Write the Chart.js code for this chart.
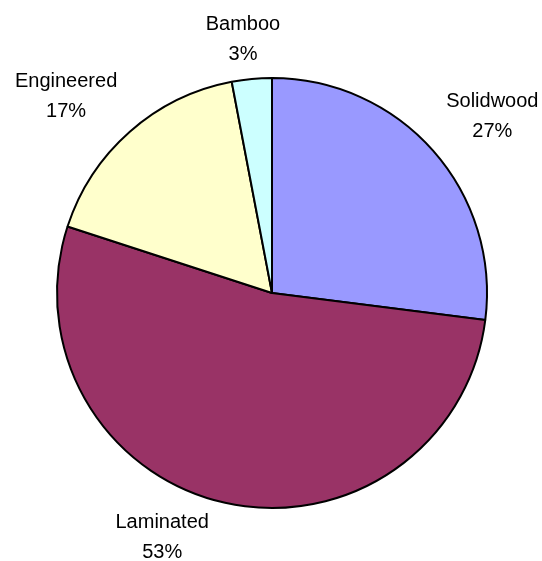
<!DOCTYPE html>
<html>
<head>
<meta charset="utf-8">
<script src="https://cdn.jsdelivr.net/npm/chart.js@4/dist/chart.umd.min.js"></script>
<style>
  html, body { margin: 0; padding: 0; background: #ffffff; }
  #wrap { width: 542px; height: 561px; }
</style>
</head>
<body>
<div id="wrap"><canvas id="pie" width="542" height="561"></canvas></div>
<script>
// Flooring market share by type
const categories = ['Solidwood', 'Laminated', 'Engineered', 'Bamboo'];
const shares = [27, 53, 17, 3];
const sliceColors = ['#9999FF', '#993366', '#FFFFCC', '#CCFFFF'];

// Draws "name / percent" labels outside the rim, sliding a label along
// the rim when it would otherwise fall off the canvas.
const outsideLabels = {
  id: 'outsideLabels',
  afterDatasetsDraw(chart) {
    const ctx = chart.ctx;
    const meta = chart.getDatasetMeta(0);
    const total = shares.reduce((a, b) => a + b, 0);
    const W = chart.width, H = chart.height;
    const gap = 19, cap = 14.3, lineStep = 30, blockH = cap + lineStep, margin = 3;
    const clamp = v => Math.max(-1, Math.min(1, v));

    ctx.save();
    ctx.font = '20px "Liberation Sans", Arial, sans-serif';
    ctx.fillStyle = '#000000';
    ctx.textAlign = 'center';
    ctx.textBaseline = 'alphabetic';

    meta.data.forEach((arc, i) => {
      const { x, y, startAngle, endAngle, outerRadius } =
        arc.getProps(['x', 'y', 'startAngle', 'endAngle', 'outerRadius'], true);
      const lines = [categories[i], Math.round(shares[i] / total * 100) + '%'];
      const w = Math.max(...lines.map(t => ctx.measureText(t).width));

      const place = a => {
        const dx = Math.cos(a), dy = Math.sin(a);
        const px = x + (outerRadius + gap) * dx;
        const py = y + (outerRadius + gap) * dy;
        return { cx: px + clamp(2 * dx) * w / 2, cy: py + clamp(2 * dy) * blockH / 2 };
      };
      const fits = p =>
        p.cy - blockH / 2 >= margin && p.cy + blockH / 2 <= H - margin &&
        p.cx - w / 2 >= margin && p.cx + w / 2 <= W - margin;

      const mid = (startAngle + endAngle) / 2;
      let pos = place(mid);
      for (let d = 0; d <= Math.PI / 2 && !fits(pos); d += Math.PI / 360) {
        const up = place(mid + d), down = place(mid - d);
        if (fits(up)) { pos = up; break; }
        if (fits(down)) { pos = down; break; }
      }

      const top = pos.cy - blockH / 2;
      ctx.fillText(lines[0], pos.cx, top + cap);
      ctx.fillText(lines[1], pos.cx, top + cap + lineStep);
    });
    ctx.restore();
  }
};

new Chart(document.getElementById('pie'), {
  type: 'pie',
  data: {
    labels: categories,
    datasets: [{
      data: shares,
      backgroundColor: sliceColors,
      borderColor: '#000000',
      borderWidth: 2
    }]
  },
  options: {
    responsive: false,
    devicePixelRatio: 1,
    animation: false,
    radius: 215,
    layout: { padding: { left: 56, right: 54, top: 76, bottom: 51 } },
    plugins: {
      legend: { display: false },
      tooltip: { enabled: false }
    }
  },
  plugins: [outsideLabels]
});
</script>
</body>
</html>
